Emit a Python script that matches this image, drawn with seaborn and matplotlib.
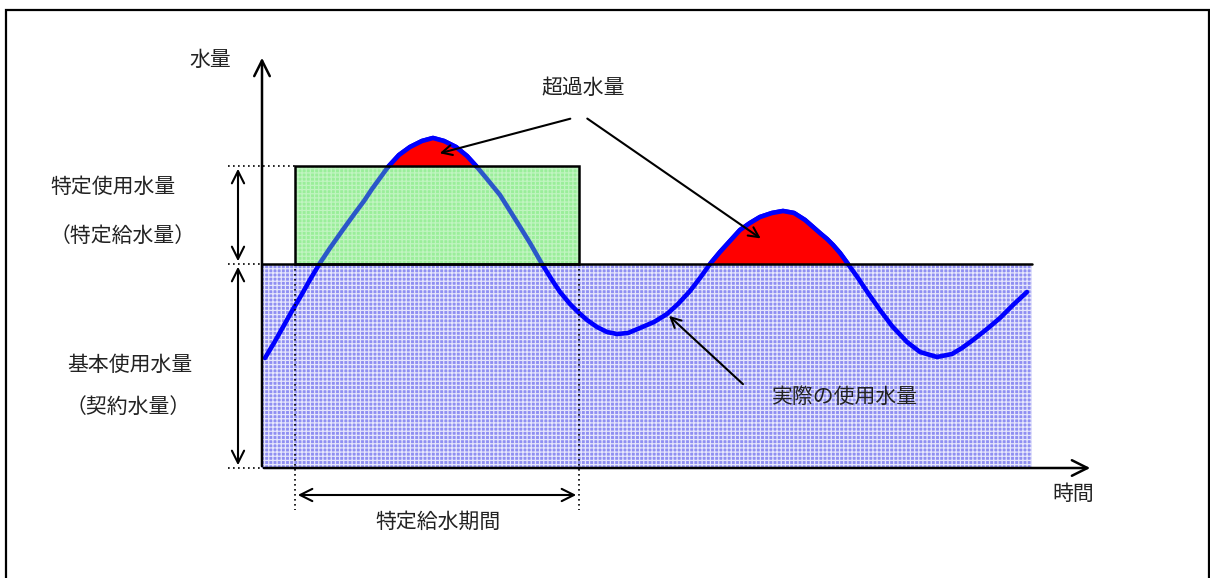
"""Schematic of specific water supply volume versus actual usage."""
import matplotlib.pyplot as plt
import matplotlib.patches as mpatches
import numpy as np
import seaborn as sns

# actual water usage curve (time, volume), origin at the axis corner
time_pts = [3, 12, 21, 30, 40, 49, 58, 68, 80, 93, 102, 110, 118, 126, 137,
            148, 160, 171, 182, 194, 205, 215, 225, 238, 255, 268, 280, 290,
            298, 308, 316, 325, 335, 345, 355, 366, 378, 392, 405, 416, 428,
            438, 448, 458, 468, 478, 488, 498, 510, 521, 532, 543, 551, 559,
            565, 571, 578, 586, 596, 606, 618, 630, 645, 658, 675, 690, 700,
            711, 725, 738, 751, 765]
usage = [110, 125, 141, 157, 174, 190, 205, 220, 237, 255, 267, 279, 290, 301,
         313, 321, 327, 330, 327, 321, 312, 301, 289, 273, 246, 225, 204, 188,
         176, 164, 156, 148, 141, 136, 134, 135, 140, 146, 154, 164, 177,
         190, 204, 216, 227, 238, 245, 251, 255, 257, 255, 248, 241, 234,
         229, 223, 215, 204, 190, 175, 158, 142, 126, 116, 111, 114, 120,
         128, 139, 150, 163, 176]

base_volume = 204        # 基本使用水量（契約水量）
specific_volume = 302    # 特定使用水量 upper level
period = (33, 317)       # 特定給水期間
t_end = 770              # right end of the shaded region
t_axis_end = 831
v_axis_end = 413

labels_left = ["特定使用水量", "（特定給水量）", "基本使用水量", "（契約水量）"]

sns.set_theme(style="white")
plt.rcParams["font.family"] = ["Noto Sans CJK JP", "DejaVu Sans"]
plt.rcParams["hatch.linewidth"] = 0.9

fig = plt.figure(figsize=(12.1, 5.78), dpi=100)
ax = fig.add_axes([0, 0, 1, 1])
ax.set_xlim(-262, 948)
ax.set_ylim(-110, 468)
ax.axis("off")

# base contract region
ax.add_patch(mpatches.Rectangle((0, 0), t_end, base_volume, facecolor="#8f8ff2",
                                edgecolor="#e6e6fc", hatch="++++", lw=0, zorder=1))

# specific supply region
width = period[1] - period[0]
height = specific_volume - base_volume
ax.add_patch(mpatches.Rectangle((period[0], base_volume), width, height,
                                facecolor="#b2f4b2", edgecolor="#f0fdf0",
                                hatch="++++", lw=0, zorder=2))

# usage curve
t = np.array(time_pts)
u = np.array(usage)
sns.lineplot(x=t, y=u, sort=False, estimator=None, color="#0000ff", lw=3.3,
             ax=ax, zorder=3)

# green tint over the curve inside the specific supply box
ax.add_patch(mpatches.Rectangle((period[0], base_volume), width, height,
                                facecolor=(0.45, 0.9, 0.45, 0.38), lw=0, zorder=4))
ax.add_patch(mpatches.Rectangle((period[0], base_volume), width, height, fill=False,
                                edgecolor="black", lw=1.8, zorder=6))

# excess volume
limit = np.where((t >= period[0]) & (t <= period[1]), specific_volume, base_volume)
ax.fill_between(t, u, limit, where=u > limit, interpolate=True, color="red",
                lw=0, zorder=5)
for lo, hi in [(120, 222), (440, 595)]:
    sel = (t > lo) & (t < hi)
    ax.plot(t[sel], u[sel], color="#0000ff", lw=3.3, zorder=5.5,
            solid_capstyle="butt")

ax.plot([0, t_end], [base_volume, base_volume], color="black", lw=1.8, zorder=6)

# axes arrows
arrow = dict(arrowstyle="->", color="black", lw=1.8, mutation_scale=28)
ax.annotate("", xy=(0, v_axis_end), xytext=(0, -1), arrowprops=arrow, zorder=7)
ax.annotate("", xy=(t_axis_end, 0), xytext=(-1, 0), arrowprops=arrow, zorder=7)

# dotted guides
dot = dict(color="black", lw=1.2, ls=(0, (1, 2)), zorder=7)
ax.plot([-34, period[0]], [specific_volume] * 2, **dot)
ax.plot([-34, 0], [base_volume] * 2, **dot)
ax.plot([-34, 0], [0, 0], **dot)
for p in period:
    ax.plot([p, p], [base_volume, -42], **dot)

# dimension arrows
dim = dict(arrowstyle="<->", color="black", lw=1.5, mutation_scale=22)
ax.annotate("", xy=(-24, specific_volume), xytext=(-24, base_volume), arrowprops=dim)
ax.annotate("", xy=(-24, base_volume), xytext=(-24, 0), arrowprops=dim)
ax.annotate("", xy=(period[0], -27), xytext=(period[1], -27), arrowprops=dim)

# callouts
call = dict(arrowstyle="->", color="black", lw=1.5, mutation_scale=18)
ax.annotate("", xy=(175, 314), xytext=(311, 350), arrowprops=call, zorder=9)
ax.annotate("", xy=(501, 228), xytext=(323, 351), arrowprops=call, zorder=9)
ax.annotate("", xy=(405, 154), xytext=(483, 82), arrowprops=call, zorder=9)

# text
fs = 15
tc = "#222222"
ax.text(-52, 408, "水量", fontsize=fs, color=tc, ha="center", va="center")
ax.text(811, -26, "時間", fontsize=fs, color=tc, ha="center", va="center")
ax.text(-149, 281, labels_left[0], fontsize=fs, color=tc, ha="center", va="center")
ax.text(-139, 232, labels_left[1], fontsize=fs, color=tc, ha="center", va="center")
ax.text(-132, 103, labels_left[2], fontsize=fs, color=tc, ha="center", va="center")
ax.text(-134, 61, labels_left[3], fontsize=fs, color=tc, ha="center", va="center")
ax.text(176, -54, "特定給水期間", fontsize=fs, color=tc, ha="center", va="center")
ax.text(321, 380, "超過水量", fontsize=fs, color=tc, ha="center", va="center")
ax.text(583, 71, "実際の使用水量", fontsize=fs, color=tc, ha="center", va="center")

# outer frame
ax.add_patch(mpatches.Rectangle((-256, -140), 1203, 598, fill=False,
                                edgecolor="black", lw=1.6, zorder=8))

fig.savefig("out.png", dpi=100)
